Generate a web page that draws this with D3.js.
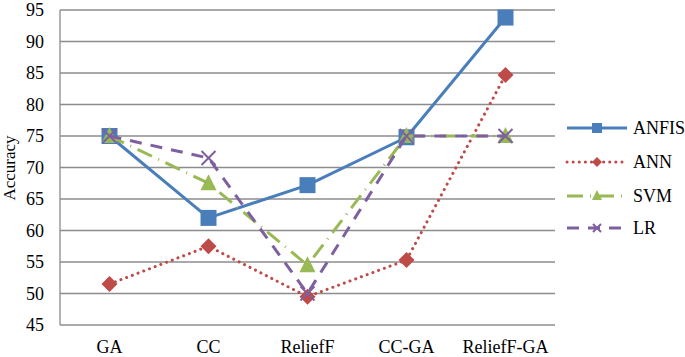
<!DOCTYPE html>
<html><head><meta charset="utf-8">
<script src="https://cdn.jsdelivr.net/npm/d3@7"></script>
<style>body{margin:0;background:#fff}svg{display:block}</style>
</head><body><svg id="c" width="685" height="357"></svg>
<script>
const categories = ["GA","CC","ReliefF","CC-GA","ReliefF-GA"];
const anfis = [75, 62, 67.2, 74.8, 93.8];
const ann = [51.5, 57.5, 49.5, 55.3, 84.7];
const svm = [75, 67.5, 54.5, 75, 75];
const lr = [75, 71.5, 50, 75, 75];
const yTicks = [45,50,55,60,65,70,75,80,85,90,95];
const seriesNames = ["ANFIS","ANN","SVM","LR"];

const series = [
  {name:"ANFIS", values:anfis, color:"#4A7EBB", dash:null, cap:"butt", marker:"square"},
  {name:"ANN", values:ann, color:"#BE4B48", dash:"0.1 6", cap:"round", marker:"diamond"},
  {name:"SVM", values:svm, color:"#98B954", dash:"16 7 1 7", cap:"butt", marker:"triangle"},
  {name:"LR", values:lr, color:"#7D60A0", dash:"12 9", cap:"butt", marker:"x"}
];

const svg = d3.select("#c");
const font = "'Liberation Serif','Times New Roman',serif";
const fs = 18;
const x = d3.scaleBand().domain(categories).range([60,555]);
const y = d3.scaleLinear().domain([45,95]).range([325,10]);

// gridlines
svg.append("g").selectAll("line").data(yTicks).join("line")
  .attr("x1",60).attr("x2",555).attr("y1",d=>y(d)).attr("y2",d=>y(d))
  .attr("stroke","#8c8c8c").attr("stroke-width",1.3);
svg.append("line").attr("x1",60).attr("x2",60).attr("y1",y(95)).attr("y2",y(45))
  .attr("stroke","#8c8c8c").attr("stroke-width",1.3);

// y tick labels
svg.append("g").selectAll("text").data(yTicks).join("text")
  .attr("x",44).attr("y",d=>y(d)).attr("dy","0.35em").attr("text-anchor","end")
  .attr("font-family",font).attr("font-size",fs).attr("fill","#000").text(d=>d);
// x labels
svg.append("g").selectAll("text").data(categories).join("text")
  .attr("x",d=>x(d)+x.bandwidth()/2).attr("y",353).attr("text-anchor","middle")
  .attr("font-family",font).attr("font-size",fs).attr("fill","#000").text(d=>d);
// axis title
svg.append("text").attr("transform","translate(15,168) rotate(-90)")
  .attr("text-anchor","middle").attr("font-family",font).attr("font-size",17).text("Accuracy");

function marker(g, type, color, cx, cy){
  if(type==="square"){
    g.append("rect").attr("x",cx-8).attr("y",cy-8).attr("width",16).attr("height",16).attr("fill",color);
  } else if(type==="diamond"){
    g.append("path").attr("d",`M${cx},${cy-8}L${cx+8},${cy}L${cx},${cy+8}L${cx-8},${cy}Z`).attr("fill",color);
  } else if(type==="triangle"){
    g.append("path").attr("d",`M${cx},${cy-9}L${cx+8},${cy+7}L${cx-8},${cy+7}Z`).attr("fill",color);
  } else {
    g.append("path").attr("d",`M${cx-7},${cy-7}L${cx+7},${cy+7}M${cx+7},${cy-7}L${cx-7},${cy+7}`)
      .attr("stroke",color).attr("stroke-width",2).attr("fill","none");
  }
}

const line = d3.line().x((d,i)=>x(categories[i])+x.bandwidth()/2).y(d=>y(d));
series.forEach(s=>{
  const g = svg.append("g");
  g.append("path").attr("d",line(s.values)).attr("fill","none").attr("stroke",s.color)
    .attr("stroke-width",3).attr("stroke-dasharray",s.dash).attr("stroke-linecap",s.cap)
    .attr("stroke-linejoin","round");
  s.values.forEach((v,i)=>marker(g,s.marker,s.color,x(categories[i])+x.bandwidth()/2,y(v)));
});

// legend
const legY = [128,162,196,228];
series.forEach((s,i)=>{
  const g = svg.append("g");
  g.append("line").attr("x1",567).attr("x2",627).attr("y1",legY[i]).attr("y2",legY[i])
    .attr("stroke",s.color).attr("stroke-width",3).attr("stroke-dasharray",s.dash).attr("stroke-linecap",s.cap);
  const m = svg.append("g");
  if(s.marker==="square") m.append("rect").attr("x",592).attr("y",legY[i]-5).attr("width",10).attr("height",10).attr("fill",s.color);
  else if(s.marker==="diamond") m.append("path").attr("d",`M597,${legY[i]-5}L602,${legY[i]}L597,${legY[i]+5}L592,${legY[i]}Z`).attr("fill",s.color);
  else if(s.marker==="triangle") m.append("path").attr("d",`M597,${legY[i]-6}L602,${legY[i]+4}L592,${legY[i]+4}Z`).attr("fill",s.color);
  else m.append("path").attr("d",`M593,${legY[i]-4}L601,${legY[i]+4}M601,${legY[i]-4}L593,${legY[i]+4}`).attr("stroke",s.color).attr("stroke-width",2);
  svg.append("text").attr("x",633).attr("y",legY[i]).attr("dy","0.35em")
    .attr("font-family",font).attr("font-size",fs).text(seriesNames[i]);
});
</script></body></html>
